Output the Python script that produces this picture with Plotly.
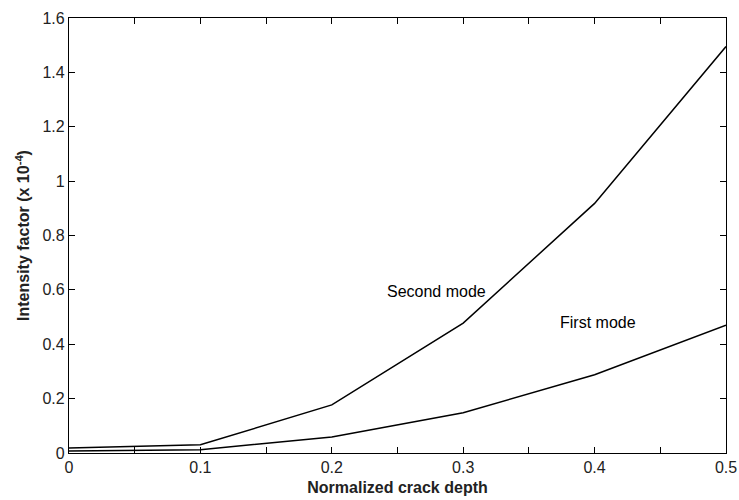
import plotly.graph_objects as go

depth = [0, 0.1, 0.2, 0.3, 0.4, 0.5]
second_mode = [0.018, 0.03, 0.177, 0.478, 0.918, 1.495]
first_mode = [0.007, 0.012, 0.059, 0.148, 0.288, 0.47]

xtick_vals = [0, 0.1, 0.2, 0.3, 0.4, 0.5]
xtick_text = ["0", "0.1", "0.2", "0.3", "0.4", "0.5"]
ytick_vals = [0, 0.2, 0.4, 0.6, 0.8, 1.0, 1.2, 1.4, 1.6]
ytick_text = ["0", "0.2", "0.4", "0.6", "0.8", "1", "1.2", "1.4", "1.6"]

fig = go.Figure()
for ys in (second_mode, first_mode):
    fig.add_trace(go.Scatter(x=depth, y=ys, mode="lines",
                             line=dict(color="black", width=1.5),
                             showlegend=False, hoverinfo="skip"))

fig.add_annotation(x=0.28, y=0.595, text="Second mode", showarrow=False,
                   font=dict(size=16, color="black"))
fig.add_annotation(x=0.4026, y=0.48, text="First mode", showarrow=False,
                   font=dict(size=16, color="black"))

axis_common = dict(showgrid=False, zeroline=False, showline=True,
                   linecolor="black", linewidth=1.2, mirror="ticks",
                   ticks="inside", ticklen=6, tickcolor="black",
                   tickfont=dict(size=16, color="#222222"),
                   automargin=False)

fig.update_xaxes(range=[0, 0.5], tickmode="array", tickvals=xtick_vals,
                 ticktext=xtick_text,
                 minor=dict(dtick=0.05, tick0=0, ticks="inside", ticklen=6,
                            tickcolor="black", showgrid=False),
                 title=dict(text="<b>Normalized crack depth</b>",
                            font=dict(size=16, color="#222222"), standoff=6),
                 **axis_common)
fig.update_yaxes(range=[0, 1.6], tickmode="array", tickvals=ytick_vals,
                 ticktext=ytick_text,
                 title=dict(text="<b>Intensity factor (x 10<sup>-4</sup>)</b>",
                            font=dict(size=16, color="#222222"), standoff=8),
                 **axis_common)

fig.update_layout(width=739, height=500,
                  margin=dict(l=69, r=13, t=18, b=47),
                  plot_bgcolor="white", paper_bgcolor="white",
                  font=dict(family="Liberation Sans, Arial, sans-serif", color="black"))

fig.write_html("out.html")
